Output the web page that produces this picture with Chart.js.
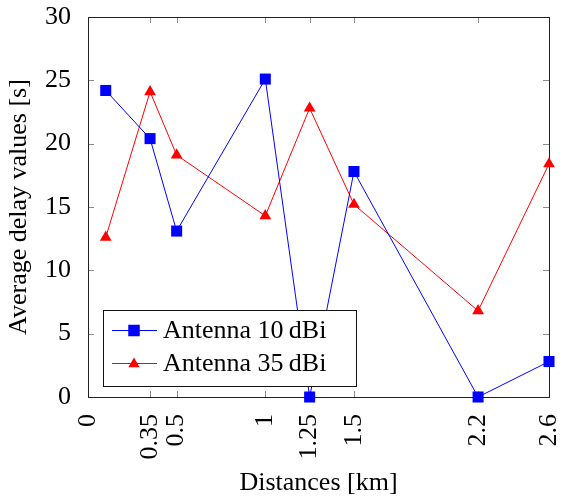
<!DOCTYPE html>
<html>
<head>
<meta charset="utf-8">
<script src="https://cdn.jsdelivr.net/npm/chart.js@4/dist/chart.umd.min.js"></script>
<style>
html,body{margin:0;padding:0;background:#fff;}
#wrap{width:561px;height:501px;position:relative;}
</style>
</head>
<body>
<div id="wrap"><canvas id="c" width="561" height="501"></canvas></div>
<script>
const distances = [0.1, 0.35, 0.5, 1, 1.25, 1.5, 2.2, 2.6];
const antenna10 = [24.2, 20.4, 13.1, 25.1, 0, 17.8, 0, 2.8];
const antenna35 = [12.6, 24.1, 19.1, 14.3, 22.8, 15.2, 6.8, 18.4];
const xTickValues = [0, 0.35, 0.5, 1, 1.25, 1.5, 2.2, 2.6];
const seriesNames = ['Antenna 10\u2009dBi', 'Antenna 35\u2009dBi'];

const FONT = '"Liberation Serif", "DejaVu Serif", serif';
const FS = 26;

function pts(ys){ return distances.map((x,i)=>({x:x,y:ys[i]})); }

const frameTicks = {
  id:'frameTicks',
  beforeDatasetsDraw(chart){
    const {ctx, chartArea:a, scales} = chart;
    ctx.save();
    ctx.strokeStyle = '#8a8a8a';
    ctx.lineWidth = 1;
    const L = 6;
    scales.x.ticks.forEach(t=>{
      const px = Math.round(scales.x.getPixelForValue(t.value))+0.5;
      ctx.beginPath();
      ctx.moveTo(px, a.bottom); ctx.lineTo(px, a.bottom-L);
      ctx.moveTo(px, a.top); ctx.lineTo(px, a.top+L);
      ctx.stroke();
    });
    scales.y.ticks.forEach(t=>{
      const py = Math.round(scales.y.getPixelForValue(t.value))+0.5;
      ctx.beginPath();
      ctx.moveTo(a.left, py); ctx.lineTo(a.left+L, py);
      ctx.moveTo(a.right, py); ctx.lineTo(a.right-L, py);
      ctx.stroke();
    });
    ctx.strokeStyle = '#222';
    ctx.strokeRect(Math.round(a.left)+0.5, Math.round(a.top)+0.5, Math.round(a.right-a.left), Math.round(a.bottom-a.top));
    ctx.restore();
  }
};

const boxLegend = {
  id:'boxLegend',
  afterDraw(chart){
    const ctx = chart.ctx;
    const bx=103, by=310, bw=253, bh=76;
    ctx.save();
    ctx.fillStyle='#fff';
    ctx.fillRect(bx,by,bw,bh);
    ctx.strokeStyle='#111';
    ctx.lineWidth=1;
    ctx.strokeRect(bx+0.5,by+0.5,bw,bh);
    const rows=[330,363];
    chart.data.datasets.forEach((ds,i)=>{
      const y=rows[i];
      ctx.strokeStyle=ds.borderColor;
      ctx.lineWidth=1;
      ctx.beginPath(); ctx.moveTo(112,y+0.5); ctx.lineTo(157,y+0.5); ctx.stroke();
      ctx.fillStyle=ds.borderColor;
      if(ds.pointStyle==='rect'){
        ctx.fillRect(134-5.75,y-5.75+0.5,11.5,11.5);
      } else {
        const r=6.5;
        ctx.beginPath();
        ctx.moveTo(134,y-r+1);
        ctx.lineTo(134+0.866*r,y+r/2+1);
        ctx.lineTo(134-0.866*r,y+r/2+1);
        ctx.closePath(); ctx.fill();
      }
      ctx.fillStyle='#000';
      ctx.font=FS+'px '+FONT;
      ctx.textBaseline='middle';
      ctx.textAlign='left';
      ctx.fillText(ds.label,163,y+1);
    });
    ctx.restore();
  }
};

new Chart(document.getElementById('c'),{
  type:'line',
  data:{datasets:[
    {label:seriesNames[0],data:pts(antenna10),borderColor:'#0000ff',backgroundColor:'#0000ff',borderWidth:1,
     pointStyle:'rect',pointRadius:7.8,pointBorderWidth:0,pointBackgroundColor:'#0000ff',clip:false,tension:0},
    {label:seriesNames[1],data:pts(antenna35),borderColor:'#ff0000',backgroundColor:'#ff0000',borderWidth:1,
     pointStyle:'triangle',pointRadius:6.8,pointBorderWidth:0,pointBackgroundColor:'#ff0000',clip:false,tension:0}
  ]},
  options:{
    responsive:false,animation:false,
    layout:{padding:{left:0,top:17,right:12,bottom:0}},
    plugins:{legend:{display:false},tooltip:{enabled:false}},
    scales:{
      x:{type:'linear',min:0,max:2.6,
        afterBuildTicks(s){ s.ticks = xTickValues.map(v=>({value:v})); },
        afterFit(s){ s.height = 104; s.paddingLeft = 0; s.paddingRight = 0; },
        grid:{display:false},border:{display:false},
        ticks:{color:'#000',font:{family:FONT,size:FS},minRotation:90,maxRotation:90,padding:9,autoSkip:false,
          callback:(v)=>String(v)},
        title:{display:true,text:'Distances [km]',color:'#000',font:{family:FONT,size:FS},padding:{top:0,bottom:2}}
      },
      y:{min:0,max:30,
        afterFit(s){ s.width = 88; s.paddingTop = 0; s.paddingBottom = 0; },
        grid:{display:false},border:{display:false},
        ticks:{stepSize:5,color:'#000',font:{family:FONT,size:FS},padding:9},
        title:{display:true,text:'Average delay values [s]',color:'#000',font:{family:FONT,size:FS},padding:{top:4,bottom:0}}
      }
    }
  },
  plugins:[frameTicks,boxLegend]
});
</script>
</body>
</html>
